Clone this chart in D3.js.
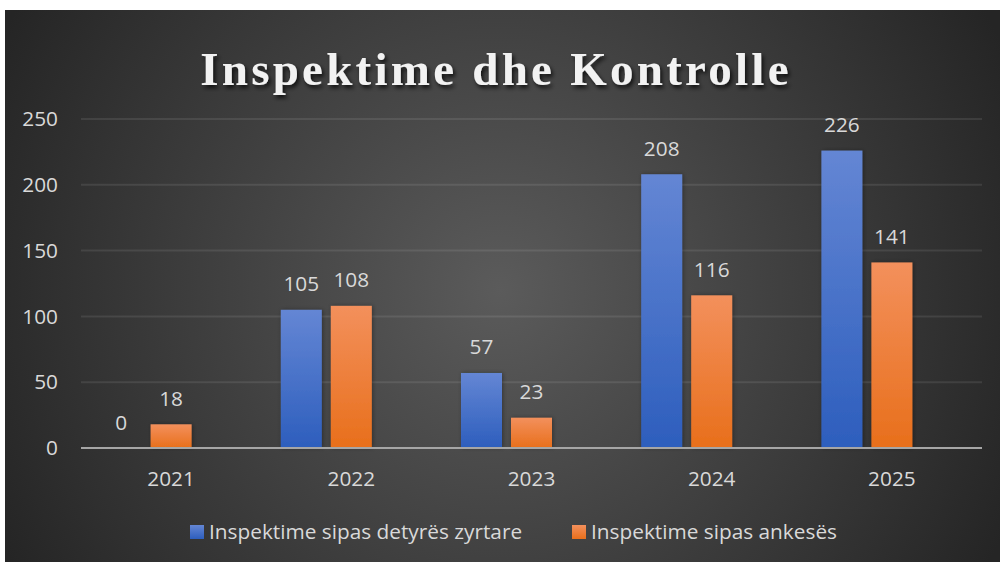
<!DOCTYPE html>
<html><head><meta charset="utf-8">
<script src="https://cdn.jsdelivr.net/npm/d3@7"></script>
<style>html,body{margin:0;padding:0;background:#fff;}svg{display:block;}</style>
</head><body>
<svg id="c" width="1000" height="562"></svg>
<script>
const categories = ["2021","2022","2023","2024","2025"];
const seriesNames = ["Inspektime sipas detyrës zyrtare","Inspektime sipas ankesës"];
const detyres = [0,105,57,208,226];
const ankeses = [18,108,23,116,141];
const yTicks = [0,50,100,150,200,250];
const title = "Inspektime dhe Kontrolle";
const slots = ["s0","s1","s2"]; // Excel group has a third (empty) slot

(function(){
const svg = d3.select("#c");
const defs = svg.append("defs");
const bg = defs.append("radialGradient").attr("id","bg").attr("gradientUnits","userSpaceOnUse")
  .attr("cx",500).attr("cy",290).attr("r",560);
bg.append("stop").attr("offset","0").attr("stop-color","#5b5b5b");
bg.append("stop").attr("offset","1").attr("stop-color","#252525");
const gb = defs.append("linearGradient").attr("id","gb").attr("x1",0).attr("y1",0).attr("x2",0).attr("y2",1);
gb.append("stop").attr("offset","0").attr("stop-color","#6486d4");
gb.append("stop").attr("offset","1").attr("stop-color","#2d5ebd");
const go = defs.append("linearGradient").attr("id","go").attr("x1",0).attr("y1",0).attr("x2",0).attr("y2",1);
go.append("stop").attr("offset","0").attr("stop-color","#f3905c");
go.append("stop").attr("offset","1").attr("stop-color","#e86f1b");
const sh = defs.append("filter").attr("id","ts").attr("x","-10%").attr("y","-30%").attr("width","120%").attr("height","160%");
sh.append("feDropShadow").attr("dx",2).attr("dy",3).attr("stdDeviation",2).attr("flood-color","#000").attr("flood-opacity",0.75);
const bs = defs.append("filter").attr("id","bs").attr("x","-20%").attr("y","-10%").attr("width","140%").attr("height","120%");
bs.append("feDropShadow").attr("dx",1).attr("dy",0).attr("stdDeviation",2).attr("flood-color","#000").attr("flood-opacity",0.35);

svg.append("rect").attr("x",5).attr("y",10).attr("width",995).attr("height",552).attr("fill","url(#bg)");

const pl=81, pr=982, pt=119, pb=448;
const x = d3.scaleBand().domain(categories).range([pl,pr]).paddingInner(0.2175).paddingOuter(0.10875);
const xs = d3.scaleBand().domain(slots).range([0,x.bandwidth()]).paddingInner(0.18).paddingOuter(0);
const y = d3.scaleLinear().domain([0,250]).range([pb,pt]);

const font = "'Open Sans', 'Noto Sans', sans-serif";
const fs = 20.8;
const txt = "#d9d9d9";

svg.append("g").selectAll("line").data(yTicks.filter(d=>d>0)).join("line")
  .attr("x1",pl).attr("x2",pr).attr("y1",d=>y(d)).attr("y2",d=>y(d))
  .attr("stroke","#ffffff").attr("stroke-opacity",0.09).attr("stroke-width",2);

svg.append("g").selectAll("text").data(yTicks).join("text")
  .attr("x",58).attr("y",d=>y(d)).attr("dy","0.35em").attr("text-anchor","end")
  .attr("font-family",font).attr("font-size",fs).attr("fill",txt).text(d=>d);

const series = [{vals:detyres, fill:"url(#gb)", slot:"s0"},{vals:ankeses, fill:"url(#go)", slot:"s1"}];
series.forEach(s=>{
  const g = svg.append("g");
  g.selectAll("rect").data(categories).join("rect")
    .attr("x",(c)=>x(c)+xs(s.slot)).attr("width",xs.bandwidth())
    .attr("y",(c,i)=>y(s.vals[i])).attr("height",(c,i)=>y(0)-y(s.vals[i]))
    .attr("fill",s.fill).attr("filter","url(#bs)");
  g.selectAll("text").data(categories).join("text")
    .attr("x",(c)=>x(c)+xs(s.slot)+xs.bandwidth()/2).attr("y",(c,i)=>y(s.vals[i])-18.5)
    .attr("text-anchor","middle").attr("font-family",font).attr("font-size",fs).attr("fill",txt)
    .text((c,i)=>s.vals[i]);
});

svg.append("line").attr("x1",pl).attr("x2",pr).attr("y1",y(0)).attr("y2",y(0))
  .attr("stroke","#a6a6a6").attr("stroke-width",2);

svg.append("g").selectAll("text").data(categories).join("text")
  .attr("x",c=>x(c)+x.bandwidth()/2).attr("y",486)
  .attr("text-anchor","middle").attr("font-family",font).attr("font-size",fs).attr("fill",txt)
  .text(c=>c);

svg.append("text").attr("x",496).attr("y",85).attr("text-anchor","middle")
  .attr("font-family","'Liberation Serif','Times New Roman',serif").attr("font-weight","bold")
  .attr("font-size",47).attr("fill","#f2f2f2").attr("letter-spacing","3.25px").attr("filter","url(#ts)")
  .text(title);

const leg = [{name:seriesNames[0], fill:"url(#gb)", x:190},{name:seriesNames[1], fill:"url(#go)", x:572}];
const lg = svg.append("g");
lg.selectAll("rect").data(leg).join("rect").attr("x",d=>d.x).attr("y",525).attr("width",14).attr("height",14).attr("fill",d=>d.fill);
lg.selectAll("text").data(leg).join("text").attr("x",d=>d.x+19).attr("y",538.5)
  .attr("font-family",font).attr("font-size",fs).attr("fill",txt).text(d=>d.name);
})();
</script>
</body></html>
